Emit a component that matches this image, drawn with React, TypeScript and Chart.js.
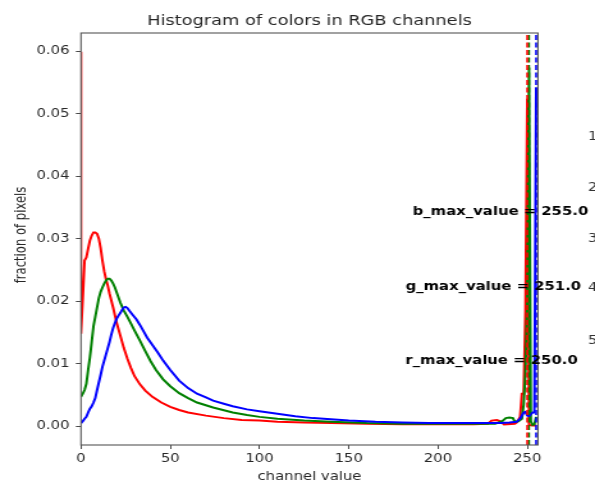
import React, { useEffect, useRef } from 'react';
import { Chart, registerables } from 'chart.js';

Chart.register(...registerables);

// ---- data ----
const redBins = [0,0,1,2,3,4,5,6,7,8,9,10,11,12,13,14,15,16,18,20,22,24,26,28,30,33,36,40,45,50,55,60,70,80,90,100,110,125,140,160,180,200,220,228,230,233,235,237,243,244,245,246,247,248,249,250,251,253,255];
const redFrac = [0.0599,0.0148,0.0205,0.0265,0.027,0.0284,0.0297,0.0305,0.031,0.031,0.0308,0.030,0.0285,0.0265,0.0248,0.0235,0.0225,0.0212,0.019,0.0165,0.0145,0.0125,0.0108,0.0093,0.008,0.0067,0.0057,0.0047,0.0038,0.0031,0.0026,0.0022,0.0017,0.0013,0.001,0.0009,0.0007,0.0006,0.0005,0.0004,0.0003,0.0003,0.0003,0.0004,0.0009,0.001,0.0008,0.0003,0.0004,0.0006,0.001,0.0015,0.0052,0.0052,0.0185,0.0524,0.0002,0.0001,0.0001];

const greenBins = [0,1,2,3,4,5,6,7,8,9,10,11,12,13,14,15,16,17,18,19,20,22,24,26,28,30,33,36,39,42,46,50,55,60,65,74,85,93,100,110,125,140,160,180,200,220,232,236,238,240,242,243,245,247,248,249,250,251,252,253,254,255];
const greenFrac = [0.0047,0.0052,0.0058,0.0068,0.009,0.011,0.0135,0.016,0.0175,0.019,0.0205,0.0215,0.0222,0.0228,0.0233,0.0236,0.0236,0.0233,0.0228,0.0222,0.0214,0.0198,0.0185,0.0175,0.0164,0.0153,0.0137,0.012,0.0104,0.009,0.0075,0.0064,0.0053,0.0045,0.0038,0.003,0.0022,0.0018,0.0015,0.0012,0.0009,0.0007,0.0005,0.0004,0.0004,0.0004,0.0004,0.0008,0.0013,0.0014,0.0013,0.0007,0.0008,0.0012,0.0035,0.0085,0.019,0.0574,0.0008,0.0002,0.0003,0.0015];

const blueBins = [0,1,2,3,4,5,6,7,8,9,10,11,12,13,14,15,16,17,18,19,20,21,22,23,24,25,26,27,29,31,33,35,37,40,43,46,50,55,60,65,70,74,80,85,93,100,110,120,130,140,150,165,180,195,210,225,235,240,244,246,248,249,250,251,252,253,254,255];
const blueFrac = [0.0005,0.0008,0.0012,0.0015,0.0022,0.0028,0.0032,0.0038,0.0045,0.0058,0.007,0.0082,0.0095,0.0105,0.0115,0.0125,0.0135,0.0147,0.0157,0.0165,0.0172,0.0177,0.0181,0.0186,0.019,0.0191,0.0189,0.0185,0.0178,0.0171,0.0162,0.0152,0.0142,0.013,0.0118,0.0105,0.009,0.0073,0.0061,0.0052,0.0046,0.0041,0.0036,0.0032,0.0027,0.0024,0.002,0.0016,0.0013,0.0011,0.0009,0.0007,0.0006,0.0005,0.0005,0.0005,0.0005,0.0006,0.0007,0.0012,0.0022,0.0023,0.0017,0.0016,0.0019,0.0022,0.0022,0.0542];

const maxValueBins = [250, 251, 255]; // r, g, b
const maxLabels = ['r_max_value = 250.0', 'g_max_value = 251.0', 'b_max_value = 255.0'];
const maxLabelCenterBins = [230, 231, 235];
const maxLabelBaselineFrac = [0.0100, 0.0218, 0.0338];

const xTicks = [0, 50, 100, 150, 200, 250];
const yTicks = [0, 0.01, 0.02, 0.03, 0.04, 0.05, 0.06];
const xRange = [0, 256];
const yRange = [-0.003, 0.0629];

const sideDigits = ['1', '2', '3', '4', '5'];

const TITLE = 'Histogram of colors in RGB channels';
const X_LABEL = 'channel value';
const Y_LABEL = 'fraction of pixels';

// ---- layout ----
const SHOWN_W = 595;
const H = 481;
const SX = 1.28; // horizontal stretch of the reference picture
const W = Math.round(SHOWN_W / SX);
const FONT = '"DejaVu Sans", "Liberation Sans", sans-serif';
const TXT = '#262626';

const pts = (xs: number[], ys: number[]) => xs.map((x, i) => ({ x, y: ys[i] }));

const textPlugin = {
  id: 'textPlugin',
  afterDraw(chart: any) {
    const { ctx, chartArea: ca, scales } = chart;
    const xs = scales.x;
    const ys = scales.y;
    ctx.save();
    // spines
    ctx.strokeStyle = '#555';
    ctx.lineWidth = 1.1;
    ctx.strokeRect(ca.left, ca.top, ca.right - ca.left, ca.bottom - ca.top);
    // title
    ctx.fillStyle = TXT;
    ctx.textAlign = 'center';
    ctx.textBaseline = 'alphabetic';
    ctx.font = `13.9px ${FONT}`;
    ctx.fillText(TITLE, (ca.left + ca.right) / 2, 25);
    // x label
    ctx.font = `11.6px ${FONT}`;
    ctx.fillText(X_LABEL, (ca.left + ca.right) / 2, 480);
    // max value annotations
    ctx.fillStyle = '#000';
    ctx.font = `bold 11.6px ${FONT}`;
    maxLabels.forEach((s, i) => {
      ctx.fillText(s, xs.getPixelForValue(maxLabelCenterBins[i]), ys.getPixelForValue(maxLabelBaselineFrac[i]));
    });
    // side digits (cut by the right edge)
    ctx.fillStyle = '#333';
    ctx.font = `11.6px ${FONT}`;
    ctx.textAlign = 'left';
    const sideY = [140, 191, 242, 291, 344];
    sideDigits.forEach((d, i) => ctx.fillText(d, 459.5, sideY[i]));
    // y label
    ctx.fillStyle = TXT;
    ctx.translate(17, 235);
    ctx.rotate(-Math.PI / 2);
    ctx.textAlign = 'center';
    ctx.textBaseline = 'middle';
    ctx.font = `11.6px ${FONT}`;
    ctx.fillText(Y_LABEL, 0, 0);
    ctx.restore();
  },
};

export default function App() {
  const ref = useRef<HTMLCanvasElement | null>(null);

  useEffect(() => {
    if (!ref.current) return;
    const lineDs = (label: string, xs: number[], ys: number[], color: string, order: number) => ({
      label,
      data: pts(xs, ys),
      borderColor: color,
      borderWidth: 2,
      pointRadius: 0,
      tension: 0,
      fill: false,
      order,
    });
    const dashColors = ['#ff0000', '#008000', '#0000ff'];
    const dashDs = maxValueBins.map((v, i) => ({
      label: `max ${i}`,
      data: [{ x: v, y: yRange[0] }, { x: v, y: yRange[1] }],
      borderColor: dashColors[i],
      borderWidth: 1.6,
      borderDash: [5, 2.5],
      pointRadius: 0,
      fill: false,
      order: 0,
    }));

    const chart = new Chart(ref.current, {
      type: 'line',
      data: {
        datasets: [
          lineDs('red', redBins, redFrac, '#ff0000', 3),
          lineDs('green', greenBins, greenFrac, '#008000', 2),
          lineDs('blue', blueBins, blueFrac, '#0000ff', 1),
          ...dashDs,
        ],
      },
      options: {
        animation: false,
        responsive: false,
        devicePixelRatio: 1,
        layout: { padding: { left: 0, top: 33, right: W - 420.4, bottom: 0 } },
        plugins: { legend: { display: false }, title: { display: false }, tooltip: { enabled: false } },
        scales: {
          x: {
            type: 'linear',
            min: xRange[0],
            max: xRange[1],
            afterBuildTicks: (s: any) => { s.ticks = xTicks.map((v) => ({ value: v })); },
            afterFit: (s: any) => { s.height = H - 445; },
            grid: { display: true, drawOnChartArea: false, drawTicks: true, tickLength: 4, color: '#4a4a4a' },
            border: { display: false },
            ticks: {
              padding: 3,
              color: TXT,
              font: { family: FONT, size: 11.6 },
              maxRotation: 0,
              autoSkip: false,
              callback: (v: any) => String(v),
            },
          },
          y: {
            type: 'linear',
            min: yRange[0],
            max: yRange[1],
            afterBuildTicks: (s: any) => { s.ticks = yTicks.map((v) => ({ value: v })); },
            afterFit: (s: any) => { s.width = 63.3; },
            grid: { display: true, drawOnChartArea: false, drawTicks: true, tickLength: 4, color: '#4a4a4a' },
            border: { display: false },
            ticks: {
              padding: 5,
              color: TXT,
              font: { family: FONT, size: 11.6 },
              autoSkip: false,
              callback: (v: any) => Number(v).toFixed(2),
            },
          },
        },
      },
      plugins: [textPlugin],
    } as any);
    return () => chart.destroy();
  }, []);

  return (
    <div style={{ position: 'absolute', left: 0, top: 0, width: SHOWN_W, height: H, background: '#fff' }}>
      <canvas
        ref={ref}
        width={W}
        height={H}
        style={{ width: `${SHOWN_W}px`, height: `${H}px`, display: 'block' }}
      />
    </div>
  );
}
